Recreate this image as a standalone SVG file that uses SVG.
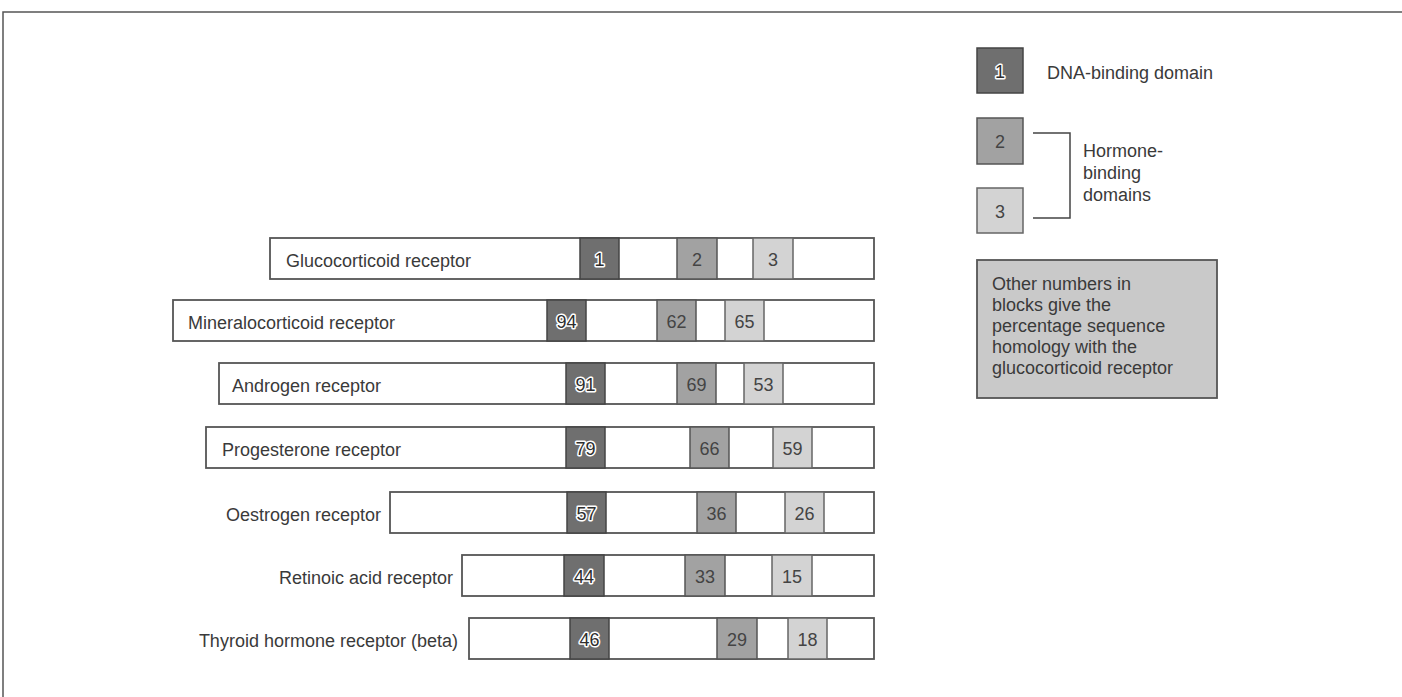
<svg xmlns="http://www.w3.org/2000/svg" width="1402" height="697" viewBox="0 0 1402 697">
<style>
text { font-family: "Liberation Sans", Arial, sans-serif; font-size: 18px; fill: #3a3a3a; }
.frame { stroke: #555; stroke-width: 1.5; fill: none; }
.bar { fill: #fff; stroke: #555; stroke-width: 1.8; }
.dna { fill: #6f6f6f; stroke: #444; stroke-width: 1.5; }
.hb2 { fill: #a2a2a2; stroke: #555; stroke-width: 1.5; }
.hb3 { fill: #d3d3d3; stroke: #666; stroke-width: 1.5; }
.note { fill: #c9c9c9; stroke: #555; stroke-width: 1.8; }
.num { text-anchor: middle; fill: #444; }
.halo { stroke: #fff; stroke-width: 3; paint-order: stroke; stroke-linejoin: round; fill: #2e2e2e; }
.rt { text-anchor: end; }
.conn { stroke: #444; stroke-width: 1.5; fill: none; }
</style>
<rect x="0" y="0" width="1402" height="697" fill="#fff"/>
<path class="frame" d="M3 697 V12 H1402"/>

<g id="legend-dna">
  <rect class="dna" x="977" y="48" width="46" height="45"/>
  <text class="num halo" x="1000" y="78">1</text>
  <text x="1047" y="79">DNA-binding domain</text>
</g>
<g id="legend-hb2">
  <rect class="hb2" x="977" y="118" width="46" height="46"/>
  <text class="num" x="1000" y="148">2</text>
</g>
<g id="legend-hb3">
  <rect class="hb3" x="977" y="188" width="46" height="45"/>
  <text class="num" x="1000" y="218">3</text>
</g>
<g id="legend-hormone-label">
  <text x="1083" y="157">Hormone-</text>
  <text x="1083" y="179">binding</text>
  <text x="1083" y="201">domains</text>
</g>
<g id="connectors">
  <path class="conn" d="M1033 133 H1070 V218 H1033"/>
</g>
<g id="note">
  <rect class="note" x="977" y="260" width="240" height="138"/>
  <text x="992" y="290">Other numbers in</text>
  <text x="992" y="311">blocks give the</text>
  <text x="992" y="332">percentage sequence</text>
  <text x="992" y="353">homology with the</text>
  <text x="992" y="374">glucocorticoid receptor</text>
</g>

<g id="glucocorticoid">
  <rect class="bar" x="270" y="238" width="604" height="41"/>
  <rect class="dna" x="580" y="238" width="39" height="41"/>
  <rect class="hb2" x="677" y="238" width="40" height="41"/>
  <rect class="hb3" x="753" y="238" width="40" height="41"/>
  <text x="286" y="267">Glucocorticoid receptor</text>
  <text class="num halo" x="599.5" y="266">1</text>
  <text class="num" x="697" y="266">2</text>
  <text class="num" x="773" y="266">3</text>
</g>
<g id="mineralocorticoid">
  <rect class="bar" x="173" y="300" width="701" height="41"/>
  <rect class="dna" x="547" y="300" width="39" height="41"/>
  <rect class="hb2" x="657" y="300" width="39" height="41"/>
  <rect class="hb3" x="725" y="300" width="39" height="41"/>
  <text x="188" y="329">Mineralocorticoid receptor</text>
  <text class="num halo" x="566.5" y="328">94</text>
  <text class="num" x="676.5" y="328">62</text>
  <text class="num" x="744.5" y="328">65</text>
</g>
<g id="androgen">
  <rect class="bar" x="219" y="363" width="655" height="41"/>
  <rect class="dna" x="566" y="363" width="39" height="41"/>
  <rect class="hb2" x="677" y="363" width="39" height="41"/>
  <rect class="hb3" x="744" y="363" width="39" height="41"/>
  <text x="232" y="392">Androgen receptor</text>
  <text class="num halo" x="585.5" y="391">91</text>
  <text class="num" x="696.5" y="391">69</text>
  <text class="num" x="763.5" y="391">53</text>
</g>
<g id="progesterone">
  <rect class="bar" x="206" y="427" width="668" height="41"/>
  <rect class="dna" x="566" y="427" width="39" height="41"/>
  <rect class="hb2" x="690" y="427" width="39" height="41"/>
  <rect class="hb3" x="773" y="427" width="39" height="41"/>
  <text x="222" y="456">Progesterone receptor</text>
  <text class="num halo" x="585.5" y="455">79</text>
  <text class="num" x="709.5" y="455">66</text>
  <text class="num" x="792.5" y="455">59</text>
</g>
<g id="oestrogen">
  <rect class="bar" x="390" y="492" width="484" height="41"/>
  <rect class="dna" x="567" y="492" width="39" height="41"/>
  <rect class="hb2" x="697" y="492" width="39" height="41"/>
  <rect class="hb3" x="785" y="492" width="39" height="41"/>
  <text class="rt" x="381" y="521">Oestrogen receptor</text>
  <text class="num halo" x="586.5" y="520">57</text>
  <text class="num" x="716.5" y="520">36</text>
  <text class="num" x="804.5" y="520">26</text>
</g>
<g id="retinoic">
  <rect class="bar" x="462" y="555" width="412" height="41"/>
  <rect class="dna" x="564" y="555" width="40" height="41"/>
  <rect class="hb2" x="685" y="555" width="40" height="41"/>
  <rect class="hb3" x="772" y="555" width="40" height="41"/>
  <text class="rt" x="453" y="584">Retinoic acid receptor</text>
  <text class="num halo" x="584" y="583">44</text>
  <text class="num" x="705" y="583">33</text>
  <text class="num" x="792" y="583">15</text>
</g>
<g id="thyroid">
  <rect class="bar" x="469" y="618" width="405" height="41"/>
  <rect class="dna" x="570" y="618" width="39" height="41"/>
  <rect class="hb2" x="717" y="618" width="40" height="41"/>
  <rect class="hb3" x="788" y="618" width="39" height="41"/>
  <text class="rt" x="458" y="647">Thyroid hormone receptor (beta)</text>
  <text class="num halo" x="589.5" y="646">46</text>
  <text class="num" x="737" y="646">29</text>
  <text class="num" x="807.5" y="646">18</text>
</g>
</svg>
